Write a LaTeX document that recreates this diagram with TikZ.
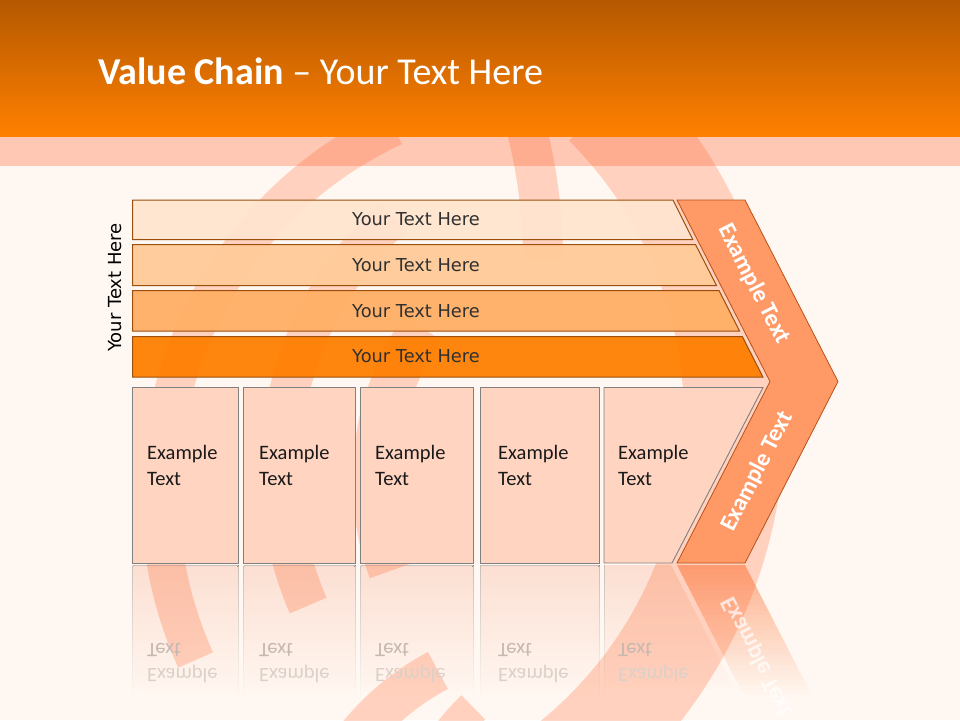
\documentclass[tikz,border=0pt]{standalone}
\usepackage{fontspec}
\usepackage{graphicx}
\setmainfont{Carlito}
\newfontfamily\verdfont{DejaVu Sans}
\definecolor{bgc}{HTML}{FFF8F2}
\definecolor{stripc}{HTML}{FFC8B4}
\definecolor{hdtop}{HTML}{B45800}
\definecolor{hdbot}{HTML}{FF8000}
\definecolor{arcc}{RGB}{255,96,38}
\definecolor{barA}{HTML}{FFE5CF}
\definecolor{barB}{HTML}{FFCB98}
\definecolor{barC}{HTML}{FFAE64}
\definecolor{barD}{HTML}{FF7F00}
\definecolor{barline}{HTML}{9C4F0C}
\definecolor{boxc}{HTML}{FFD5C2}
\definecolor{boxline}{HTML}{808080}
\definecolor{chevc}{HTML}{FF9966}
\definecolor{chevline}{HTML}{B85218}
\definecolor{txtdark}{HTML}{303030}
\definecolor{refline}{HTML}{C8BEB8}
\definecolor{reffill}{HTML}{FCDFD2}
\definecolor{chevref}{HTML}{FDB08C}
\definecolor{reftxtA}{HTML}{C4B8B0}
\definecolor{reftxtB}{HTML}{DCD0C8}
\tikzset{
  band/.style={draw=arcc, draw opacity=0.25},
  barshape/.style={fill opacity=0.94},
  baredge/.style={draw=barline, line width=1pt},
  bartext/.style={font=\fontsize{17.8}{20}\verdfont, text=txtdark, inner sep=0pt},
  boxshape/.style={fill=boxc, draw=boxline, line width=0.9pt},
  boxtext/.style={font=\fontsize{20.5}{24}\selectfont, text=black!90, anchor=base west, inner sep=0pt},
  reftextA/.style={font=\fontsize{20.5}{24}\selectfont, text=reftxtA, anchor=base west, inner sep=0pt},
  reftextB/.style={font=\fontsize{20.5}{24}\selectfont, text=reftxtB, anchor=base west, inner sep=0pt},
  chevtext/.style={font=\fontsize{24}{28}\selectfont\bfseries, text=white, inner sep=0pt},
}
\begin{document}
\begin{tikzpicture}[x=1pt,y=-1pt]
\useasboundingbox (0,0) rectangle (960,720);
% background
\fill[bgc] (0,0) rectangle (960,720);
\fill[stripc] (0,136) rectangle (960,166);

% reflections of boxes
\foreach \xa/\xb in {132.5/238.5, 243.5/355.5, 360.5/473.5, 480/599.5}{
  \fill[top color=refline, bottom color=bgc] (\xa,565) rectangle (\xb,700);
  \fill[top color=reffill, bottom color=bgc] (\xa+1,566) rectangle (\xb-1,700);
}
\fill[top color=refline, bottom color=bgc] (604,565) rectangle (605,700);
% slanted reflections drawn as fading strips
\foreach \k in {0,...,26}{
  \pgfmathsetmacro{\ya}{565+5*\k}
  \pgfmathsetmacro{\yb}{\ya+5.6}
  \pgfmathsetmacro{\pc}{100-100*\k/26}
  \fill[reffill!\pc!bgc] (605,\ya) -- ({671+0.514*(\ya-565)},\ya) -- ({671+0.514*(\yb-565)},\yb) -- (605,\yb) -- cycle;
  \fill[chevref!\pc!bgc] ({677+0.512*(\ya-565)},\ya) -- ({745+0.512*(\ya-565)},\ya) -- ({745+0.512*(\yb-565)},\yb) -- ({677+0.512*(\yb-565)},\yb) -- cycle;
}

% decorative arcs
\draw[band, line width=38pt] (565,494) ++(245:405) arc[start angle=245, end angle=155.8, radius=405];
\draw[band, line width=40pt] (620,470) ++(228:340) arc[start angle=228, end angle=156.5, radius=340];
\draw[band, line width=45pt] (640,480) ++(215:265) arc[start angle=215, end angle=160, radius=265];
\draw[band, line width=101pt] (292,418) ++(-45:442.5) arc[start angle=-45, end angle=52, radius=442.5];
\draw[band, line width=40pt] (13,260) ++(-20:530) arc[start angle=-20, end angle=0, radius=530];
\draw[band, line width=42pt] (560,900) ++(200:260) arc[start angle=200, end angle=242, radius=260];
\draw[band, line width=34pt] (640,880) ++(200:240) arc[start angle=200, end angle=226, radius=240];

% reflected texts
\foreach \x [count=\i] in {147,259,375,498,618}{
  \node[reftextA] (rt\i) at (\x,643) {\scalebox{1}[-1]{Text}};
  \node[reftextB] (re\i) at (\x,668.5) {\scalebox{1}[-1]{Example}};
}
\node[chevtext, text opacity=0.7, rotate=-62.9] (rchev) at (757.5,656.5) {\scalebox{1}[-1]{Example Text}};

% header
\fill[top color=hdtop, bottom color=hdbot] (0,0) rectangle (960,136);
\node[anchor=base west, inner sep=0pt, text=white, font=\fontsize{38}{42}\selectfont] (title) at (98,84) {\textbf{Value Chain} – Your Text Here};

% bars
\fill[barshape, fill=barA] (132.5,200) -- (673,200) -- (692.8,239.5) -- (132.5,239.5) -- cycle;
\fill[barshape, fill=barB] (132.5,244.5) -- (695.5,244.5) -- (716.5,285.5) -- (132.5,285.5) -- cycle;
\fill[barshape, fill=barC] (132.5,290.5) -- (719,290.5) -- (739.5,331) -- (132.5,331) -- cycle;
\fill[barshape, fill=barD] (132.5,336.5) -- (742.3,336.5) -- (762.9,377) -- (132.5,377) -- cycle;
\draw[baredge] (132.5,200) -- (673,200) -- (692.8,239.5) -- (132.5,239.5) -- cycle;
\draw[baredge] (132.5,244.5) -- (695.5,244.5) -- (716.5,285.5) -- (132.5,285.5) -- cycle;
\draw[baredge] (132.5,290.5) -- (719,290.5) -- (739.5,331) -- (132.5,331) -- cycle;
\draw[baredge] (132.5,336.5) -- (742.3,336.5) -- (762.9,377) -- (132.5,377) -- cycle;
\node[bartext] (t1) at (416,219) {Your Text Here};
\node[bartext] (t2) at (416,265.5) {Your Text Here};
\node[bartext] (t3) at (416,311) {Your Text Here};
\node[bartext] (t4) at (416,356.5) {Your Text Here};
\node[font=\fontsize{18}{20}\verdfont, text=black, rotate=90, inner sep=0pt] (side) at (115.5,287.5) {Your Text Here};

% boxes
\draw[boxshape] (132.5,387.5) rectangle (238.5,563);
\draw[boxshape] (243.5,387.5) rectangle (355.5,563);
\draw[boxshape] (360.5,387.5) rectangle (473.5,563);
\draw[boxshape] (480,387.5) rectangle (599.5,563);
\draw[boxshape] (604,387.5) -- (763,387.5) -- (672,563) -- (604,563) -- cycle;
\foreach \x [count=\i] in {147,259,375,498,618}{
  \node[boxtext] (be\i) at (\x,459.5) {Example};
  \node[boxtext] (bt\i) at (\x,485) {Text};
}

% chevron
\draw[fill=chevc, draw=chevline, line width=0.8pt] (677,200) -- (745,200) -- (838,381.5) -- (745,563) -- (677,563) -- (770,381.5) -- cycle;
\node[chevtext, rotate=-62.9] (cu) at (754,284) {Example Text};
\node[chevtext, rotate=62.9] (cl) at (757.5,471.5) {Example Text};
\end{tikzpicture}
\end{document}
